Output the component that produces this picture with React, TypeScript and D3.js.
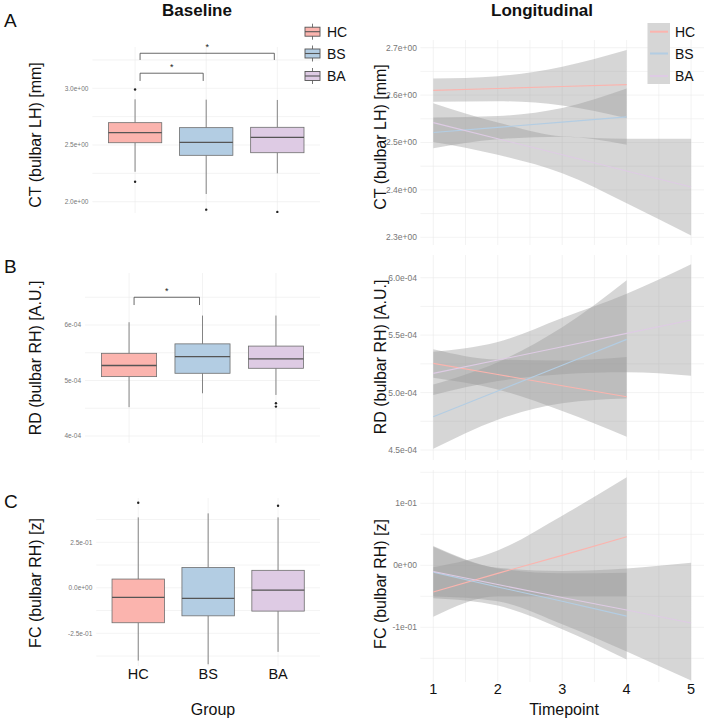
import React from 'react';
import * as d3 from 'd3';

// groups and colours
const groups = ['HC', 'BS', 'BA'];
const groupColors = ['#FBB4AE', '#B3CDE3', '#DECBE4'];

// baseline box stats (lo whisker, q1, median, q3, hi whisker, outliers)
const ctBox = [
    { lo: 2.264, q1: 2.52, med: 2.609, q3: 2.697, hi: 2.903, out: [2.99, 2.176] },
    { lo: 2.068, q1: 2.409, med: 2.524, q3: 2.653, hi: 2.90, out: [1.93] },
    { lo: 2.25, q1: 2.432, med: 2.568, q3: 2.656, hi: 2.897, out: [1.91] },
];
const rdBox = [
    { lo: 4.52e-4, q1: 5.07e-4, med: 5.27e-4, q3: 5.49e-4, hi: 6.05e-4, out: [] },
    { lo: 4.77e-4, q1: 5.13e-4, med: 5.43e-4, q3: 5.66e-4, hi: 6.17e-4, out: [] },
    { lo: 4.74e-4, q1: 5.22e-4, med: 5.39e-4, q3: 5.62e-4, hi: 6.17e-4, out: [4.59e-4, 4.53e-4] },
];
const fcBox = [
    { lo: -0.40, q1: -0.192, med: -0.053, q3: 0.048, hi: 0.387, out: [0.467] },
    { lo: -0.42, q1: -0.154, med: -0.058, q3: 0.112, hi: 0.409, out: [] },
    { lo: -0.352, q1: -0.128, med: -0.013, q3: 0.096, hi: 0.387, out: [0.451] },
];

// significance brackets
const ctSig = [
    { a: 'HC', b: 'BS', y: 3.133, tip: 3.065 },
    { a: 'HC', b: 'BA', y: 3.309, tip: 3.25 },
];
const rdSig = [{ a: 'HC', b: 'BS', y: 6.5e-4, tip: 6.36e-4 }];

// baseline tick values / labels
const ctBoxTicks = [2.0, 2.5, 3.0];
const ctBoxTickLabels = ['2.0e+00', '2.5e+00', '3.0e+00'];
const ctBoxMinor = [2.25, 2.75, 3.25];
const rdBoxTicks = [4e-4, 5e-4, 6e-4];
const rdBoxTickLabels = ['4e-04', '5e-04', '6e-04'];
const rdBoxMinor = [4.5e-4, 5.5e-4, 6.5e-4];
const fcBoxTicks = [-0.25, 0, 0.25];
const fcBoxTickLabels = ['-2.5e-01', '0.0e+00', '2.5e-01'];
const fcBoxMinor = [-0.375, -0.125, 0.125, 0.375];

// longitudinal fits (fit, lower CI, upper CI at each timepoint)
const timepoints = [1, 2, 3, 4, 5];
const ctFit = [
    [2.610, 2.614, 2.618, 2.622],
    [2.521, 2.532, 2.543, 2.554],
    [2.542, 2.508, 2.474, 2.440, 2.406],
];
const ctLo = [
    [2.586, 2.587, 2.578, 2.551],
    [2.488, 2.507, 2.512, 2.495],
    [2.501, 2.474, 2.435, 2.372, 2.304],
];
const ctHi = [
    [2.635, 2.640, 2.660, 2.695],
    [2.553, 2.556, 2.573, 2.614],
    [2.583, 2.542, 2.513, 2.508, 2.508],
];
const rdFit = [
    [5.254e-4, 5.157e-4, 5.060e-4, 4.963e-4],
    [4.79e-4, 5.014e-4, 5.238e-4, 5.463e-4],
    [5.167e-4, 5.283e-4, 5.399e-4, 5.515e-4, 5.631e-4],
];
const rdLo = [
    [5.13e-4, 5.027e-4, 4.84e-4, 4.616e-4],
    [4.51e-4, 4.764e-4, 4.908e-4, 4.948e-4],
    [4.979e-4, 5.10e-4, 5.16e-4, 5.176e-4, 5.146e-4],
];
const rdHi = [
    [5.378e-4, 5.287e-4, 5.28e-4, 5.31e-4],
    [5.07e-4, 5.264e-4, 5.568e-4, 5.978e-4],
    [5.355e-4, 5.44e-4, 5.65e-4, 5.86e-4, 6.117e-4],
];
const fcFit = [
    [-0.043, -0.013, 0.016, 0.046],
    [-0.011, -0.035, -0.058, -0.082],
    [-0.010, -0.031, -0.052, -0.072, -0.093],
];
const fcLo = [
    [-0.083, -0.05, -0.05, -0.05],
    [-0.053, -0.065, -0.103, -0.152],
    [-0.05, -0.058, -0.095, -0.139, -0.186],
];
const fcHi = [
    [-0.003, 0.024, 0.08, 0.142],
    [0.031, -0.005, -0.013, -0.012],
    [0.03, -0.004, -0.009, -0.005, 0.004],
];

const ctTrendTicks = [2.3, 2.4, 2.5, 2.6, 2.7];
const ctTrendTickLabels = ['2.3e+00', '2.4e+00', '2.5e+00', '2.6e+00', '2.7e+00'];
const ctTrendMinor = [2.35, 2.45, 2.55, 2.65];
const rdTrendTicks = [4.5e-4, 5.0e-4, 5.5e-4, 6.0e-4];
const rdTrendTickLabels = ['4.5e-04', '5.0e-04', '5.5e-04', '6.0e-04'];
const rdTrendMinor = [4.75e-4, 5.25e-4, 5.75e-4];
const fcTrendTicks = [-0.1, 0, 0.1];
const fcTrendTickLabels = ['-1e-01', '0e+00', '1e-01'];
const fcTrendMinor = [-0.15, -0.05, 0.05, 0.15];

const font = 'Liberation Sans, Arial, Helvetica, sans-serif';
const grid = '#ebebeb';

function BoxPanel(props) {
    const { stats, sig, ticks, tickLabels, minor, left, top, bottom, yDom, yRng, label, labelY, letter, letterY, showX } = props;
    const right = 320;
    const x = d3.scalePoint().domain(groups).range([left, right]).padding(0.6);
    const y = d3.scaleLinear().domain(yDom).range(yRng);
    const bw = x.step() * 0.75;
    return (
        <g>
            {minor.concat(ticks).map((t, i) =>
                <line key={'h' + i} x1={left} x2={right} y1={y(t)} y2={y(t)} stroke={grid} strokeWidth={0.6} />)}
            {groups.map(g =>
                <line key={'v' + g} x1={x(g)} x2={x(g)} y1={top} y2={bottom} stroke={grid} strokeWidth={0.6} />)}
            {ticks.map((t, i) =>
                <text key={'t' + i} x={left - 4} y={y(t)} dy="0.35em" textAnchor="end" fontSize={6.5} fill="#777">{tickLabels[i]}</text>)}
            {stats.map((s, i) => {
                const cx = x(groups[i]);
                return (
                    <g key={groups[i]}>
                        <line x1={cx} x2={cx} y1={y(s.hi)} y2={y(s.q3)} stroke="#777" strokeWidth={0.9} />
                        <line x1={cx} x2={cx} y1={y(s.q1)} y2={y(s.lo)} stroke="#777" strokeWidth={0.9} />
                        <rect x={cx - bw / 2} y={y(s.q3)} width={bw} height={y(s.q1) - y(s.q3)}
                              fill={groupColors[i]} stroke="#6e6e6e" strokeWidth={0.8} />
                        <line x1={cx - bw / 2} x2={cx + bw / 2} y1={y(s.med)} y2={y(s.med)} stroke="#555" strokeWidth={1.3} />
                        {s.out.map((o, j) => <circle key={j} cx={cx} cy={y(o)} r={1.2} fill="#222" />)}
                    </g>
                );
            })}
            {sig.map((b, i) => {
                const x1 = x(b.a) + 5, x2 = x(b.b) - 3;
                return (
                    <g key={'s' + i}>
                        <path d={`M${x1},${y(b.tip)}V${y(b.y)}H${x2}V${y(b.tip)}`} fill="none" stroke="#444" strokeWidth={0.8} />
                        <text x={(x1 + x2) / 2} y={y(b.y) - 3} textAnchor="middle" fontSize={9} fill="#222">*</text>
                    </g>
                );
            })}
            <text transform={`translate(41,${labelY}) rotate(-90)`} textAnchor="middle" fontSize={16} fill="#111">{label}</text>
            <text x={4} y={letterY} fontSize={19} fill="#111">{letter}</text>
            {showX && groups.map(g =>
                <text key={'x' + g} x={x(g)} y={679} textAnchor="middle" fontSize={14.5} fill="#111">{g}</text>)}
        </g>
    );
}

function TrendPanel(props) {
    const { fit, lo, hi, ticks, tickLabels, minor, top, bottom, yDom, yRng, label, labelY, showX } = props;
    const x = d3.scaleLinear().domain([0.8, 5.2]).range([420.4, 704]);
    const y = d3.scaleLinear().domain(yDom).range(yRng);
    const vgrid = [1, 1.5, 2, 2.5, 3, 3.5, 4, 4.5, 5];
    const area = d3.area()
        .x(d => x(d.t))
        .y0(d => y(d.lo))
        .y1(d => y(d.hi))
        .curve(d3.curveMonotoneX);
    const line = d3.line()
        .x(d => x(d.t))
        .y(d => y(d.v));
    return (
        <g>
            {minor.concat(ticks).map((t, i) =>
                <line key={'h' + i} x1={420.4} x2={704} y1={y(t)} y2={y(t)} stroke={grid} strokeWidth={0.6} />)}
            {vgrid.map((t, i) =>
                <line key={'v' + i} x1={x(t)} x2={x(t)} y1={top} y2={bottom} stroke={grid} strokeWidth={0.6} />)}
            {ticks.map((t, i) =>
                <text key={'t' + i} x={417} y={y(t)} dy="0.35em" textAnchor="end" fontSize={8.5} fill="#777">{tickLabels[i]}</text>)}
            {groups.map((g, i) => {
                const rows = fit[i].map((v, j) => ({ t: timepoints[j], v: v, lo: lo[i][j], hi: hi[i][j] }));
                return <path key={'a' + g} d={area(rows)} fill="#999" fillOpacity={0.4} />;
            })}
            {groups.map((g, i) => {
                const rows = fit[i].map((v, j) => ({ t: timepoints[j], v: v }));
                return <path key={'l' + g} d={line(rows)} fill="none" stroke={groupColors[i]} strokeWidth={1.1} />;
            })}
            <text transform={`translate(386,${labelY}) rotate(-90)`} textAnchor="middle" fontSize={16} fill="#111">{label}</text>
            {showX && [1, 2, 3, 4, 5].map(t =>
                <text key={'x' + t} x={x(t)} y={694} textAnchor="middle" fontSize={14.5} fill="#111">{t}</text>)}
        </g>
    );
}

export default function App() {
    const legY = [31.7, 53.5, 76];
    return (
        <svg width={708} height={722} style={{ position: 'absolute', left: 0, top: 0, background: '#fff' }} fontFamily={font}>
            <text x={197} y={16} textAnchor="middle" fontSize={17} fontWeight="bold" fill="#111">Baseline</text>
            <text x={542} y={16} textAnchor="middle" fontSize={17} fontWeight="bold" fill="#111">Longitudinal</text>

            <BoxPanel stats={ctBox} sig={ctSig} ticks={ctBoxTicks} tickLabels={ctBoxTickLabels} minor={ctBoxMinor}
                      left={92.4} top={47} bottom={213} yDom={[2.0, 3.0]} yRng={[201.7, 88.3]}
                      label="CT (bulbar LH) [mm]" labelY={135} letter="A" letterY={27} />
            <BoxPanel stats={rdBox} sig={rdSig} ticks={rdBoxTicks} tickLabels={rdBoxTickLabels} minor={rdBoxMinor}
                      left={85} top={273} bottom={443} yDom={[4e-4, 6e-4]} yRng={[436, 325]}
                      label="RD (bulbar RH) [A.U.]" labelY={358} letter="B" letterY={273} />
            <BoxPanel stats={fcBox} sig={[]} ticks={fcBoxTicks} tickLabels={fcBoxTickLabels} minor={fcBoxMinor}
                      left={96.3} top={498} bottom={666} yDom={[-0.25, 0.25]} yRng={[633.3, 542.3]}
                      label="FC (bulbar RH) [z]" labelY={583} letter="C" letterY={508} showX />
            <text x={213} y={715} textAnchor="middle" fontSize={16} fill="#111">Group</text>

            <TrendPanel fit={ctFit} lo={ctLo} hi={ctHi} ticks={ctTrendTicks} tickLabels={ctTrendTickLabels} minor={ctTrendMinor}
                        top={40} bottom={245} yDom={[2.3, 2.7]} yRng={[237.3, 47.7]}
                        label="CT (bulbar LH) [mm]" labelY={137} />
            <TrendPanel fit={rdFit} lo={rdLo} hi={rdHi} ticks={rdTrendTicks} tickLabels={rdTrendTickLabels} minor={rdTrendMinor}
                        top={255} bottom={460} yDom={[4.5e-4, 6.0e-4]} yRng={[450, 277.7]}
                        label="RD (bulbar RH) [A.U.]" labelY={357} />
            <TrendPanel fit={fcFit} lo={fcLo} hi={fcHi} ticks={fcTrendTicks} tickLabels={fcTrendTickLabels} minor={fcTrendMinor}
                        top={470} bottom={682} yDom={[-0.1, 0.1]} yRng={[627.3, 503.3]}
                        label="FC (bulbar RH) [z]" labelY={584} showX />
            <text x={564} y={715} textAnchor="middle" fontSize={16} fill="#111">Timepoint</text>

            {/* baseline legend */}
            {groups.map((g, i) => (
                <g key={'lb' + g}>
                    <line x1={312.5} x2={312.5} y1={legY[i] - 8} y2={legY[i] + 8} stroke="#666" strokeWidth={0.9} />
                    <rect x={305} y={legY[i] - 4.5} width={15} height={9} fill={groupColors[i]} stroke="#555" strokeWidth={0.9} />
                    <line x1={305} x2={320} y1={legY[i]} y2={legY[i]} stroke="#555" strokeWidth={1.1} />
                    <text x={327} y={legY[i] + 5} fontSize={14} fill="#111">{g}</text>
                </g>
            ))}

            {/* longitudinal legend */}
            <rect x={647.5} y={23} width={22.5} height={61} fill="#d6d6d6" />
            {groups.map((g, i) => (
                <g key={'lt' + g}>
                    <line x1={650} x2={668} y1={legY[i]} y2={legY[i]} stroke={groupColors[i]} strokeWidth={2} />
                    <text x={675} y={legY[i] + 5} fontSize={14} fill="#111">{g}</text>
                </g>
            ))}
        </svg>
    );
}
